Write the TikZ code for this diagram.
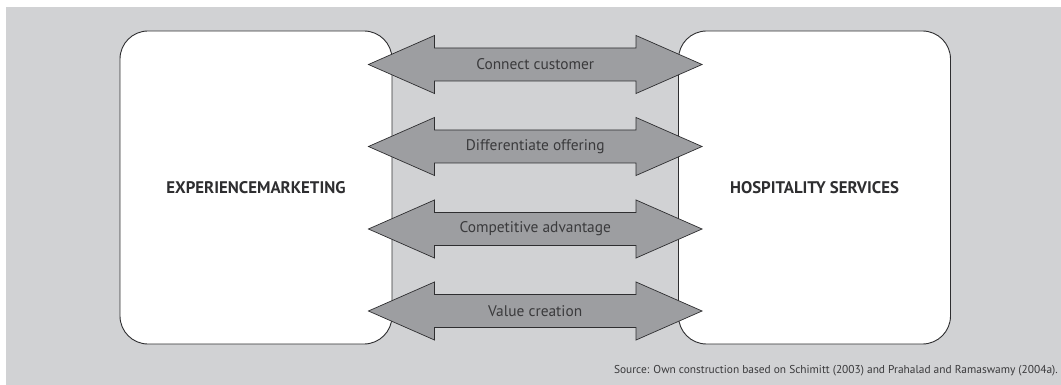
\documentclass[tikz,border=0pt]{standalone}
\usepackage{fontspec}
\setmainfont{PT Sans}
\usetikzlibrary{calc}
\definecolor{panelgray}{HTML}{D1D2D4}
\definecolor{arrowgray}{HTML}{9D9EA1}
\definecolor{edgegray}{HTML}{2E2E30}
\definecolor{labelgray}{HTML}{3A3A3C}
\begin{document}
\begin{tikzpicture}[x=1pt,y=-1pt,
  panel/.style={fill=panelgray,draw=none},
  sidebox/.style={draw=edgegray,fill=white,line width=0.9pt,rounded corners=28pt,
    minimum width=272pt,minimum height=313pt,inner sep=0pt},
  sidelabel/.style={font=\fontsize{16.8}{18}\selectfont\bfseries,text=edgegray},
  linkarrow/.style={fill=arrowgray,draw=edgegray,line width=0.7pt,line join=miter},
  linklabel/.style={font=\fontsize{15.4}{17}\selectfont,text=labelgray,inner sep=0pt},
  sourcenote/.style={font=\fontsize{11.4}{13}\selectfont,text=labelgray,anchor=east,inner sep=0pt}]
  \useasboundingbox (0,0) rectangle (1061,385);
  \fill[panel] (6,7) rectangle (1061,385);

  % the two sides that are linked
  \node[sidebox] (exp) at (256,187.5) {};
  \node[sidebox] (hos) at (814.5,187.5) {};
  \node[sidelabel] at (exp.center) {EXPERIENCEMARKETING};
  \node[sidelabel] at (hos.center) {HOSPITALITY SERVICES};

  % two-headed arrows between the sides
  \foreach \name/\yc/\txt in {a1/64.5/Connect customer,
                              a2/146.5/Differentiate offering,
                              a3/229/Competitive advantage,
                              a4/311/Value creation}{
    \coordinate (\name-l) at (exp.east |- 0,\yc);
    \coordinate (\name-r) at (hos.west |- 0,\yc);
    \draw[linkarrow]
      ([xshift=-24pt]\name-l) -- ([xshift=42pt,yshift=-29pt]\name-l)
      -- ([xshift=42pt,yshift=-16.5pt]\name-l) -- ([xshift=-42pt,yshift=-16.5pt]\name-r)
      -- ([xshift=-42pt,yshift=-29pt]\name-r) -- ([xshift=24pt]\name-r)
      -- ([xshift=-42pt,yshift=29pt]\name-r) -- ([xshift=-42pt,yshift=16.5pt]\name-r)
      -- ([xshift=42pt,yshift=16.5pt]\name-l) -- ([xshift=42pt,yshift=29pt]\name-l)
      -- cycle;
    \node[linklabel] (\name) at ($(\name-l)!0.5!(\name-r)$) {\txt};
  }

  \node[sourcenote] (src) at (1058,371) {Source: Own construction based on Schimitt (2003) and Prahalad and Ramaswamy (2004a).};
\end{tikzpicture}
\end{document}
